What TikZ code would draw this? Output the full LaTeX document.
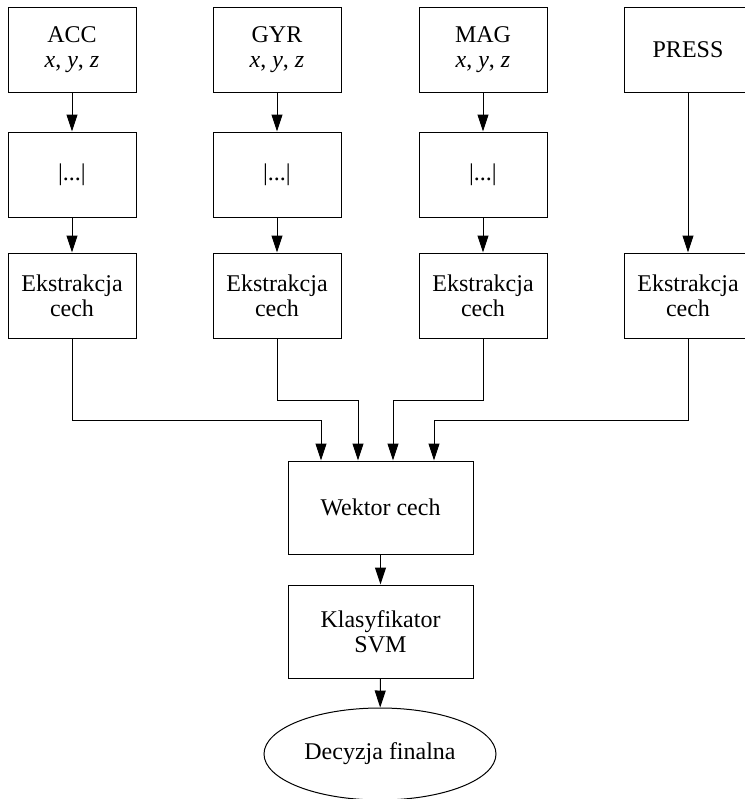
\documentclass[tikz,border=0pt]{standalone}
\usepackage{fontspec}
\setmainfont{Liberation Serif}
\usetikzlibrary{arrows.meta,shapes.geometric}
\tikzset{
  blok/.style={draw, line width=0.5pt, minimum width=64pt, minimum height=42.5pt,
    align=center, inner sep=2pt, font=\fontsize{12}{12.5}\selectfont},
  duzy/.style={blok, minimum width=92.5pt, minimum height=46.5pt},
  arr/.style={-{Triangle[length=8.5pt,width=5.5pt]}, line width=0.5pt}
}

\begin{document}
\begin{tikzpicture}[x=0.5pt,y=-0.5pt]
\useasboundingbox (0,0) rectangle (745,799);
% ekstrakcja cech
\foreach \n/\x in {1/72,2/277,3/483,4/688}
{   \node[blok] (ext\n) at (\x,295.5) {Ekstrakcja\\cech};
}
% czujniki
\foreach \n/\x/\t in {1/72/ACC,2/277/GYR,3/483/MAG}
{   \node[blok] (we\n) at (\x,49.5) {\t\\\textit{x}, \textit{y}, \textit{z}};
    \node[blok] (abs\n) at (\x,174.5) {|...|};
    \draw[arr] (we\n) -- (abs\n);
    \draw[arr] (abs\n) -- (ext\n);
}
\node[blok] (we4) at (688,49.5) {PRESS};
\draw[arr] (we4) -- (ext4);
% klasyfikacja
\node[duzy] (wek) at (380.5,507.5) {Wektor cech};
\node[duzy] (svm) at (380.5,631.5) {Klasyfikator\\SVM};
\node[draw, ellipse, line width=0.5pt, minimum width=116pt, minimum height=46pt,
  inner sep=0pt, font=\fontsize{12}{12.5}\selectfont] (dec) at (380,754) {Decyzja finalna};
\coordinate (in1) at ([xshift=-29.75pt]wek.north);
\coordinate (in2) at ([xshift=-11.25pt]wek.north);
\coordinate (in3) at ([xshift=6.25pt]wek.north);
\coordinate (in4) at ([xshift=26.75pt]wek.north);
\draw[arr] (ext1.south) -- ++(0,82) -| (in1);
\draw[arr] (ext2.south) -- ++(0,62) -| (in2);
\draw[arr] (ext3.south) -- ++(0,62) -| (in3);
\draw[arr] (ext4.south) -- ++(0,82) -| (in4);
\draw[arr] (wek) -- (svm);
\draw[arr] (svm) -- (dec);
\end{tikzpicture}
\end{document}
